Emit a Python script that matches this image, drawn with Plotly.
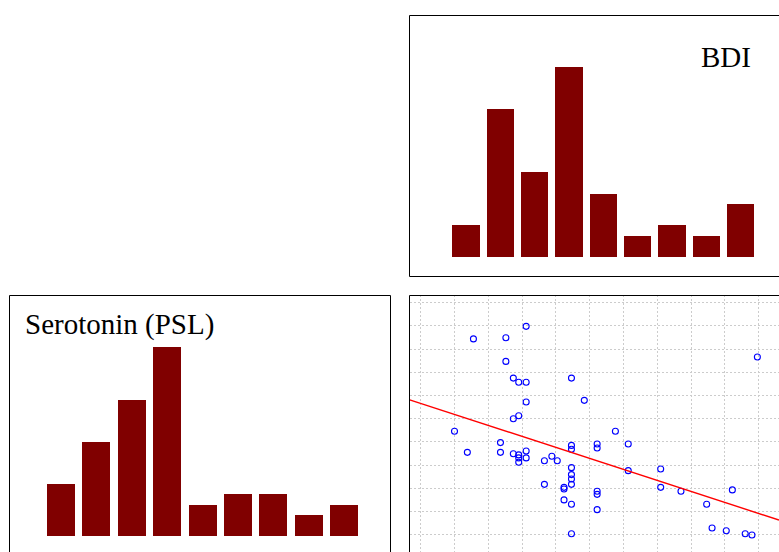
import plotly.graph_objects as go

W, H = 779, 552

# ---- data ----
bdi = [15.6, 7.8, 12.6, 12.6, 49.8, 13.7, 14.5, 15.6, 22.3, 15.6, 24.2, 13.7, 14.5,
       5.0, 28.8, 6.9, 11.8, 11.8, 13.7, 14.5, 14.5, 14.5, 15.6, 15.6, 18.3, 19.4,
       20.2, 22.3, 22.3, 26.1, 26.1, 30.7, 22.3, 22.3, 22.3, 22.3, 18.3, 21.2, 21.2,
       21.2, 22.3, 22.3, 26.1, 26.1, 26.1, 30.7, 35.5, 35.5, 38.5, 42.3, 46.1, 43.1,
       45.2, 48.0, 49.0]
serotonin = [139.8, 134.4, 134.9, 124.7, 126.6, 117.5, 115.7, 115.7, 117.5, 107.2, 107.9,
             100.0, 101.3, 94.6, 94.6, 85.5, 89.7, 85.5, 84.9, 84.4, 83.1, 81.2, 86.1,
             83.1, 81.9, 83.8, 81.9, 88.5, 86.8, 89.1, 87.4, 89.1, 78.9, 75.9, 74.0,
             71.7, 71.7, 70.4, 69.7, 65.0, 63.1, 50.4, 68.7, 67.4, 60.8, 77.6, 78.3,
             70.4, 68.7, 63.1, 69.3, 52.9, 51.7, 50.4, 49.9]

fit_intercept = 106.6
fit_slope = -0.949

bins = [1, 2, 3, 4, 5, 6, 7, 8, 9]
bdi_counts = [3, 14, 8, 18, 6, 2, 3, 2, 5]
serotonin_counts = [5, 9, 13, 18, 3, 4, 4, 2, 3]

BAR = "#800000"

def px_x(p):
    return p / W

def px_y(p):
    return (H - p) / H

fig = go.Figure()

# scatter panel
fig.add_trace(go.Scatter(
    x=bdi, y=serotonin, mode="markers",
    marker=dict(symbol="circle-open", size=6, color="#0000FF", line=dict(width=1.1, color="#0000FF")),
    xaxis="x", yaxis="y", showlegend=False))

x_lo, x_hi = -1.627, 53.0
fig.add_trace(go.Scatter(
    x=[x_lo, x_hi], y=[fit_intercept + fit_slope * x_lo, fit_intercept + fit_slope * x_hi],
    mode="lines", line=dict(color="#FF0000", width=1.4),
    xaxis="x", yaxis="y", showlegend=False))

# BDI histogram (top right)
fig.add_trace(go.Bar(x=bins, y=bdi_counts, width=0.8, marker=dict(color=BAR, line=dict(width=0)),
                     xaxis="x2", yaxis="y2", showlegend=False))

# Serotonin histogram (bottom left)
fig.add_trace(go.Bar(x=bins, y=serotonin_counts, width=0.79, marker=dict(color=BAR, line=dict(width=0)),
                     xaxis="x3", yaxis="y3", showlegend=False))

hidden = dict(showticklabels=False, ticks="", showline=False, zeroline=False)
grid = dict(showgrid=True, gridcolor="#cccccc", gridwidth=1, griddash="2px,2px")

scat_dom_x = [px_x(409.7), 1.0]
scat_dom_y = [0.0, px_y(295.3)]

fig.update_layout(
    width=W, height=H,
    margin=dict(l=0, r=0, t=0, b=0),
    paper_bgcolor="white", plot_bgcolor="white",
    showlegend=False, bargap=0,
    xaxis=dict(domain=scat_dom_x, range=[x_lo, x_hi], tick0=0, dtick=5, **grid, **hidden),
    yaxis=dict(domain=scat_dom_y, range=[42.54, 153.19], tick0=50, dtick=10, **grid, **hidden),
    xaxis2=dict(domain=scat_dom_x, range=[-0.634, 10.123], showgrid=False, anchor="y2", **hidden),
    yaxis2=dict(domain=[px_y(276), px_y(15)], range=[-1.833, 22.95], showgrid=False, anchor="x2", **hidden),
    xaxis3=dict(domain=[px_x(9.3), px_x(390)], range=[-0.469, 10.285], showgrid=False, anchor="y3", **hidden),
    yaxis3=dict(domain=scat_dom_y, range=[-1.457, 22.99], showgrid=False, anchor="x3", **hidden),
)

box = dict(type="rect", xref="paper", yref="paper", line=dict(color="black", width=1),
           fillcolor="rgba(0,0,0,0)", layer="above")
fig.add_shape(x0=px_x(409.5), x1=1.05, y0=px_y(276.5), y1=px_y(15.5), **box)
fig.add_shape(x0=px_x(409.5), x1=1.05, y0=-0.05, y1=px_y(295.5), **box)
fig.add_shape(x0=px_x(9.5), x1=px_x(390.5), y0=-0.05, y1=px_y(295.5), **box)

font = dict(family="Liberation Serif, Times New Roman, serif", size=29, color="black")
fig.add_annotation(text="BDI", xref="paper", yref="paper", x=px_x(753), y=px_y(56.9),
                   xanchor="right", yanchor="middle", showarrow=False, font=font)
fig.add_annotation(text="Serotonin (PSL)", xref="paper", yref="paper", x=px_x(23), y=px_y(324.5),
                   xanchor="left", yanchor="middle", showarrow=False, font=font)

# remove the default page margin so the figure fills the window exactly
fig.write_html("out.html", config={"displayModeBar": False},
               post_script="document.body.style.margin='0';")
